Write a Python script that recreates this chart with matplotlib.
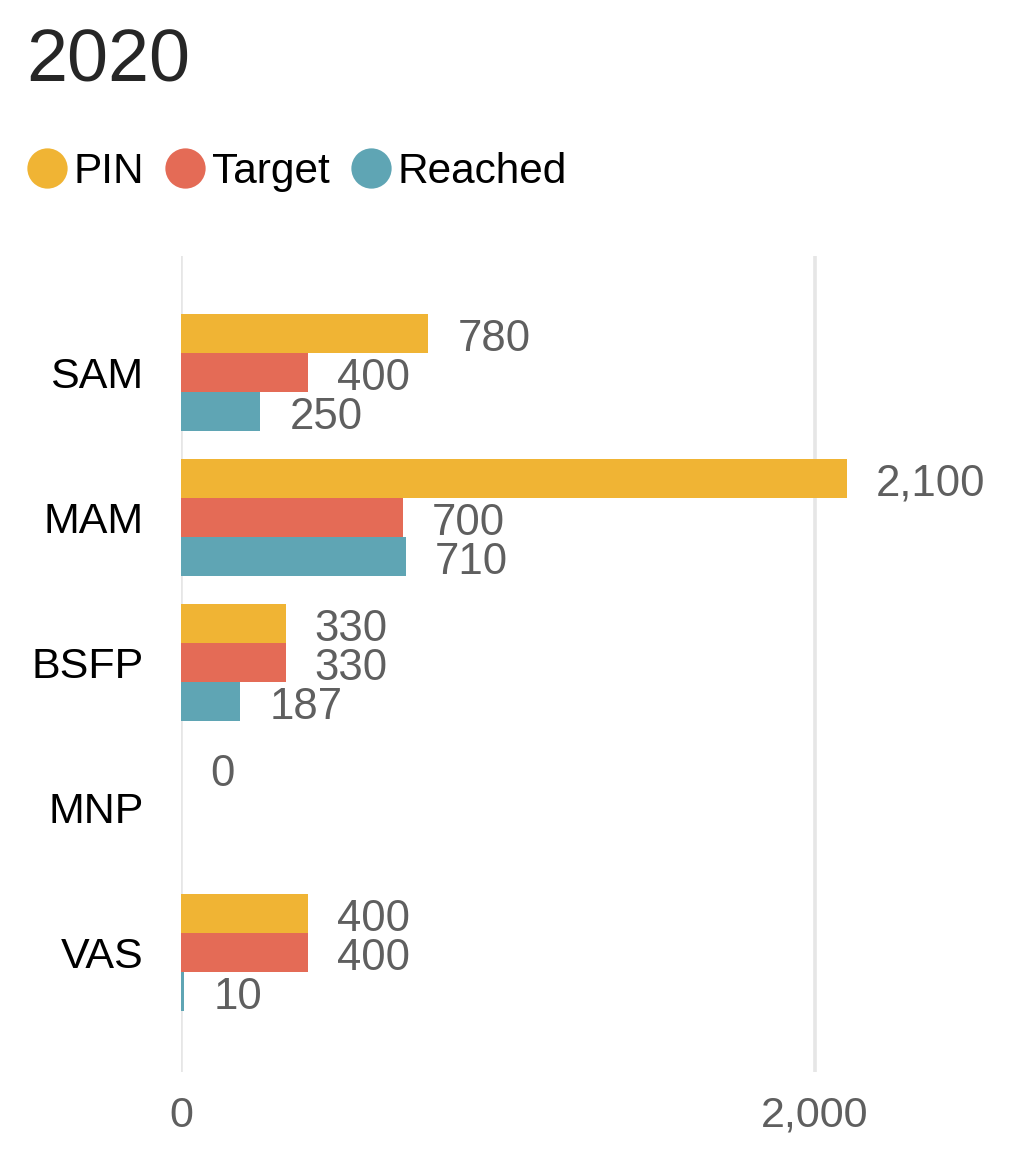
import math

import matplotlib.pyplot as plt
from matplotlib.lines import Line2D
from matplotlib.ticker import FuncFormatter

# data
categories = ["SAM", "MAM", "BSFP", "MNP", "VAS"]
pin = [780, 2100, 330, 0, 400]
target = [400, 700, 330, float("nan"), 400]
reached = [250, 710, 187, float("nan"), 10]
series_names = ["PIN", "Target", "Reached"]
series_colors = ["#F0B434", "#E46B56", "#5FA5B4"]
x_ticks = [0, 2000]

plt.rcParams["font.family"] = ["Liberation Sans", "DejaVu Sans"]

W, H = 1026, 1154
fig = plt.figure(figsize=(W / 100, H / 100), dpi=100)
ax = fig.add_axes([181 / W, (H - 1072) / H, 824 / W, (1072 - 256) / H])

bar_h = 0.269
offsets = [-bar_h, 0.0, bar_h]
for values, color, off in zip([pin, target, reached], series_colors, offsets):
    for i, v in enumerate(values):
        if math.isnan(v):
            continue
        ax.barh(i + off, v, height=bar_h, color=color, zorder=2)
        ax.annotate(f"{v:,.0f}", xy=(v, i + off), xytext=(21, -12.4),
                    textcoords="offset points", va="baseline", ha="left",
                    fontsize=31.5, color="#5f5f5f")

ax.set_xlim(0, 2600)
ax.set_ylim(4.824, -0.803)
ax.set_yticks(range(len(categories)))
ax.set_yticklabels(categories)
ax.set_xticks(x_ticks)
ax.xaxis.set_major_formatter(FuncFormatter(lambda v, _: f"{v:,.0f}"))
ax.tick_params(axis="y", length=0, pad=27, labelsize=31, labelcolor="black")
ax.tick_params(axis="x", length=0, pad=17, labelsize=31, labelcolor="#5f5f5f")
ax.grid(axis="x", color="#e6e6e6", linewidth=2.6)
ax.set_axisbelow(True)
for s in ax.spines.values():
    s.set_visible(False)

fig.text(26 / W, 1 - 81 / H, "2020", fontsize=53, color="#262626",
         ha="left", va="baseline")

handles = [Line2D([], [], linestyle="none", marker="o", markersize=29,
                  markerfacecolor=c, markeredgewidth=0) for c in series_colors]
fig.legend(handles, series_names, loc="center left",
           bbox_to_anchor=(27 / W, 1 - 172 / H), ncol=3, frameon=False,
           fontsize=30.5, handlelength=0.93, handletextpad=0.17,
           columnspacing=0.5, borderpad=0, borderaxespad=0)

fig.savefig("out.png", dpi=100)
